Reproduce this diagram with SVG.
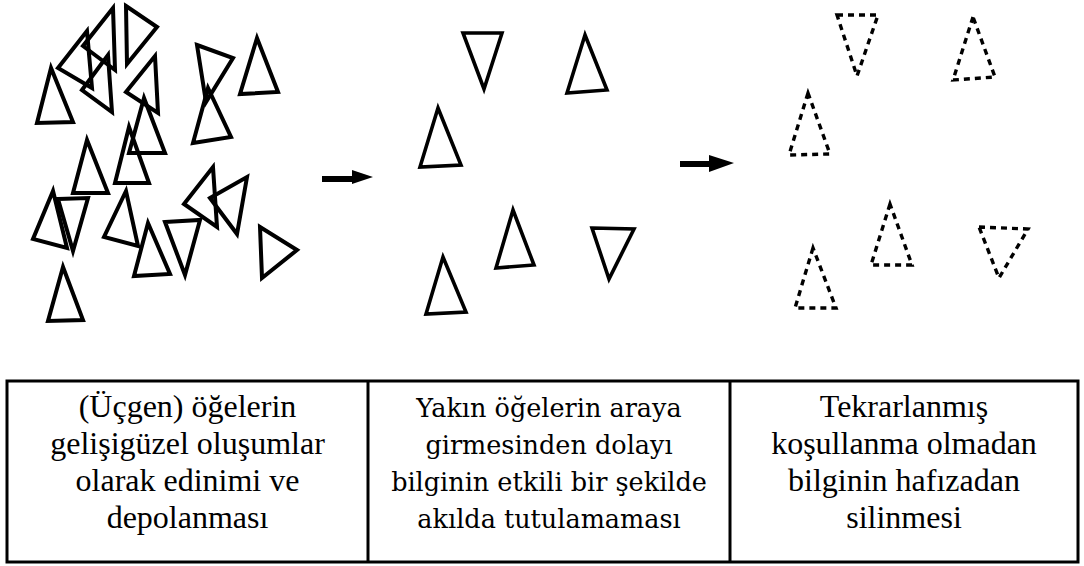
<svg xmlns="http://www.w3.org/2000/svg" width="1084" height="566" viewBox="0 0 1084 566">
<style>
.t{fill:none;stroke:#000;stroke-width:4;stroke-linejoin:miter}
.m{fill:none;stroke:#000;stroke-width:3.6;stroke-linejoin:miter}
.d{fill:none;stroke:#000;stroke-width:3.4;stroke-dasharray:6 5}
.b{fill:none;stroke:#000;stroke-width:3}
.tx{font-size:32px;fill:#000;text-anchor:middle}
.tx2{font-size:25.5px;fill:#000;text-anchor:middle}
</style>
<rect width="1084" height="566" fill="#fff"/>
<g id="stage1">
<polygon class="t" points="51,68 37,123 73,122"/>
<polygon class="t" points="58,68 87,31 92,88"/>
<polygon class="t" points="113,8 83,46 115,70"/>
<polygon class="t" points="82,90 108,55 112,112"/>
<polygon class="t" points="126,6 157,27 127,64"/>
<polygon class="t" points="126,92 155,56 158,113"/>
<polygon class="t" points="144,98 129,153 165,153"/>
<polygon class="t" points="197,45 233,58 206,102"/>
<polygon class="t" points="208,88 193,143 231,137"/>
<polygon class="t" points="257,38 240,94 278,92"/>
<polygon class="t" points="87,140 73,193 108,193"/>
<polygon class="t" points="129,127 115,183 149,183"/>
<polygon class="t" points="53,191 33,239 67,248"/>
<polygon class="t" points="58,199 88,198 73,251"/>
<polygon class="t" points="126,191 104,237 138,246"/>
<polygon class="t" points="148,223 134,276 170,274"/>
<polygon class="t" points="165,222 200,220 185,275"/>
<polygon class="t" points="184,204 213,167 217,227"/>
<polygon class="t" points="210,198 247,177 237,234"/>
<polygon class="t" points="260,227 297,250 262,278"/>
<polygon class="t" points="63,267 48,321 83,320"/>
</g>
<g id="stage2">
<polygon class="m" points="463,33 502,33 484,89"/>
<polygon class="m" points="585,35 567,93 607,90"/>
<polygon class="m" points="438,108 420,167 461,165"/>
<polygon class="m" points="513,210 496,268 534,265"/>
<polygon class="m" points="592,228 634,229 609,279"/>
<polygon class="m" points="443,257 426,314 466,312"/>
</g>
<g id="stage3">
<polygon class="d" points="837,15 878,15 857,76"/>
<polygon class="d" points="973,17 953,80 995,77"/>
<polygon class="d" points="808,93 789,155 830,154"/>
<polygon class="d" points="890,204 871,265 912,265"/>
<polygon class="d" points="979,227 1028,229 999,278"/>
<polygon class="d" points="813,248 795,308 836,308"/>
</g>
<g id="connectors">
<path d="M322,176 H352 V170 L373,177 L352,184 V182 H322 Z" fill="#000"/>
<path d="M680,161 H709 V155 L734,163 L709,172 V167 H680 Z" fill="#000"/>
</g>
<g id="table">
<rect class="b" x="7" y="381" width="1071" height="181"/>
<line class="b" x1="368" y1="381" x2="368" y2="562"/>
<line class="b" x1="730" y1="381" x2="730" y2="562"/>
</g>
<g id="col1" font-family="'Liberation Serif'">
<text class="tx" x="187.5" y="417">(Üçgen) öğelerin</text>
<text class="tx" x="187.5" y="454">gelişigüzel oluşumlar</text>
<text class="tx" x="187.5" y="491">olarak edinimi ve</text>
<text class="tx" x="187.5" y="528">depolanması</text>
</g>
<g id="col2" font-family="DejaVu Serif">
<text class="tx2" x="549" y="417">Yakın öğelerin araya</text>
<text class="tx2" x="549" y="454">girmesinden dolayı</text>
<text class="tx2" x="549" y="491">bilginin etkili bir şekilde</text>
<text class="tx2" x="549" y="528">akılda tutulamaması</text>
</g>
<g id="col3" font-family="serif">
<text class="tx" x="904" y="417">Tekrarlanmış</text>
<text class="tx" x="904" y="454">koşullanma olmadan</text>
<text class="tx" x="904" y="491">bilginin hafızadan</text>
<text class="tx" x="904" y="528">silinmesi</text>
</g>
</svg>
